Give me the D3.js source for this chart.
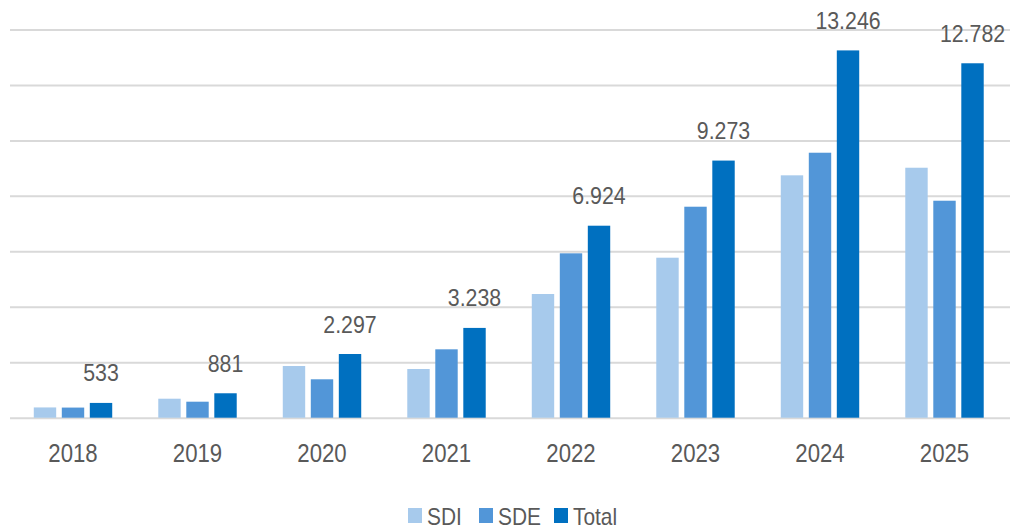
<!DOCTYPE html>
<html>
<head>
<meta charset="utf-8">
<script src="https://cdn.jsdelivr.net/npm/d3@7"></script>
<style>
  html, body { margin: 0; padding: 0; background: #fff; }
  text { font-family: "Liberation Sans", Arial, sans-serif; fill: #595959; }
</style>
</head>
<body>
<div class="chart-container"></div>
<script>
//! DATA
const YEARS = ['2018', '2019', '2020', '2021', '2022', '2023', '2024', '2025'];
const SERIES = ['SDI', 'SDE', 'Total'];
const SDI = [370, 685, 1864, 1756, 4461, 5770, 8741, 9015];
const SDE = [365, 577, 1385, 2466, 5928, 7609, 9556, 7825];
const TOTAL = [533, 881, 2297, 3238, 6924, 9273, 13246, 12782];
const Y_TICKS = [0, 2000, 4000, 6000, 8000, 10000, 12000, 14000];
const COLORS = ['#a7caec', '#5296d8', '#0070c0'];

//! CONSTS
const WIDTH = 1014;
const HEIGHT = 529;
const LEFT = 10.75, RIGHT = 1006.75;
const TOP = 29.5, BOTTOM = 417.7;
const SQUEEZE = 0.87; // the original font is a narrow one

const rows = YEARS.map((year, i) => ({ year, SDI: SDI[i], SDE: SDE[i], Total: TOTAL[i] }));

// dot as thousands separator
const fmt = d3.formatLocale({ decimal: ',', thousands: '.', grouping: [3], currency: ['', ''] }).format(',d');

//! SVG
const svg = d3.select('.chart-container')
  .append('svg')
  .attr('width', WIDTH)
  .attr('height', HEIGHT);

//! SCALES
const x0 = d3.scaleBand()
  .domain(YEARS)
  .range([LEFT, RIGHT])
  .paddingInner(0.37)
  .paddingOuter(0.185);

const x1 = d3.scaleBand()
  .domain(SERIES)
  .range([0, x0.bandwidth()])
  .paddingInner(0.2);

const y = d3.scaleLinear()
  .domain([0, 14000])
  .range([BOTTOM, TOP]);

const color = d3.scaleOrdinal().domain(SERIES).range(COLORS);

// gridlines
const yAxis = d3.axisLeft(y)
  .tickValues(Y_TICKS)
  .tickSize(-(1010 - 10))
  .tickFormat('');

svg.append('g')
  .attr('class', 'grid')
  .attr('transform', 'translate(10,0)')
  .call(yAxis)
  .call(g => g.select('.domain').remove())
  .call(g => g.selectAll('line').attr('stroke', '#d9d9d9').attr('stroke-width', 2));

// bars
const groups = svg.append('g')
  .selectAll('g')
  .data(rows)
  .enter()
  .append('g')
  .attr('transform', d => `translate(${x0(d.year)},0)`);

groups.selectAll('rect')
  .data(d => SERIES.map(key => ({ key, value: d[key] })))
  .enter()
  .append('rect')
  .attr('x', d => x1(d.key))
  .attr('y', d => y(d.value))
  .attr('width', x1.bandwidth())
  .attr('height', d => y(0) - y(d.value))
  .attr('fill', d => color(d.key));

// total labels
groups.append('text')
  .attr('transform', d => `translate(${x1('Total') + x1.bandwidth() / 2},${y(d.Total) - 21.5}) scale(${SQUEEZE},1)`)
  .attr('text-anchor', 'middle')
  .style('font-size', '24.5px')
  .text(d => fmt(d.Total));

// x axis
const xAxis = d3.axisBottom(x0).tickSize(0).tickPadding(0);
svg.append('g')
  .attr('transform', `translate(0,${BOTTOM})`)
  .call(xAxis)
  .call(g => g.select('.domain').remove())
  .call(g => g.selectAll('text')
    .attr('dy', null)
    .attr('y', null)
    .attr('transform', `translate(0,44.5) scale(${SQUEEZE},1)`)
    .style('font-size', '25.5px')
    .style('font-family', '"Liberation Sans", Arial, sans-serif')
    .attr('fill', '#595959'));

// legend
const LEGEND_X = [408, 479, 554];
const legend = svg.append('g').attr('id', 'legend');
const items = legend.selectAll('g')
  .data(SERIES)
  .enter()
  .append('g')
  .attr('transform', (d, i) => `translate(${LEGEND_X[i]},508)`);

items.append('rect')
  .attr('width', 14)
  .attr('height', 15)
  .attr('fill', d => color(d));

items.append('text')
  .attr('transform', `translate(19,16.5) scale(${SQUEEZE},1)`)
  .style('font-size', '24px')
  .text(d => d);
</script>
</body>
</html>
